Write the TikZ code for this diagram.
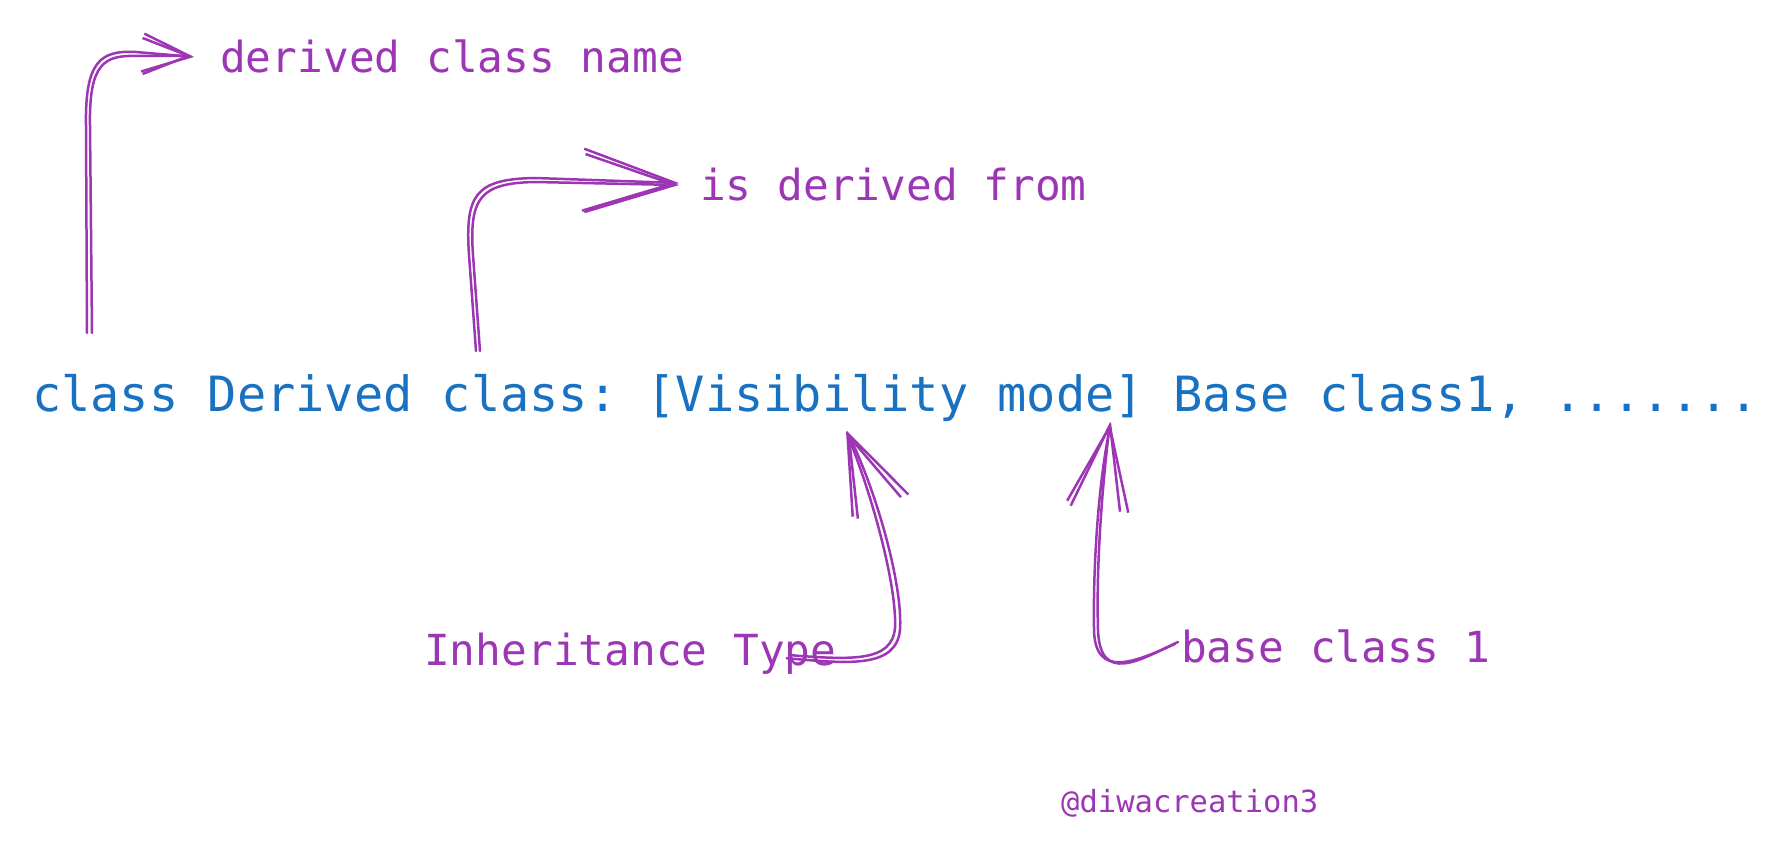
\documentclass[tikz,border=0pt]{standalone}
\usepackage{fontspec}
\setmonofont{DejaVu Sans Mono}
\usetikzlibrary{arrows.meta}
\definecolor{codeblue}{HTML}{1971C2}
\definecolor{grape}{HTML}{9C36B5}
\tikzset{
  code/.style={anchor=base west, inner sep=0pt, text=codeblue,
               font=\ttfamily\fontsize{48.6}{58}\selectfont},
  note/.style={anchor=base west, inner sep=0pt, text=grape,
               font=\ttfamily\fontsize{42.8}{52}\selectfont},
  sketch/.style={grape, line width=2.5pt, line cap=round, line join=round},
  barb/.style 2 args={-{Straight Barb[length=#1,width=#2]}},
}
\begin{document}
\begin{tikzpicture}[x=1pt,y=-1pt]
  \useasboundingbox (0,0) rectangle (1789,850);
  % declaration line
  \node[code] (decl) at (32,411) {class Derived class: [Visibility mode] Base class1, .......};
  % labels
  \node[note] (dname)  at (220,73)   {derived class name};
  \node[note] (isfrom) at (700,201)  {is derived from};
  \node[note] (inh)    at (424,665)  {Inheritance Type};
  \node[note] (bcls)   at (1181,662) {base class 1};
  \node[note,font=\ttfamily\fontsize{30.5}{36}\selectfont] (credit) at (1061,812) {@diwacreation3};
  % points on the declaration line
  \coordinate (clsA) at (87,333);
  \coordinate (clsB) at (476,351);
  \coordinate (vis)  at (847,431);
  \coordinate (mode) at (1110,422);

  % derived class name
  \draw[sketch,barb={48pt}{38pt}] (clsA) -- (86,125) .. controls (85,62) and (100,50) .. (136,52) -- ([xshift=-26pt]dname.west);
  \draw[sketch,barb={46pt}{36pt}] ([xshift=5pt]clsA) -- (90,125) .. controls (89,64) and (104,55) .. (136,56) -- ([xshift=-28pt,yshift=1pt]dname.west);
  % is derived from
  \draw[sketch,barb={92pt}{62pt}] (clsB) -- (469,255) .. controls (465,195) and (475,179) .. (535,178) -- ([xshift=-21pt,yshift=2pt]isfrom.west);
  \draw[sketch,barb={90pt}{58pt}] ([xshift=4pt]clsB) -- (473,255) .. controls (469,198) and (480,183) .. (535,182) -- ([xshift=-21pt]isfrom.west);
  % inheritance type
  \draw[sketch,barb={80pt}{56pt}] ([xshift=-50pt,yshift=-5pt]inh.east) .. controls (850,664) and (896,668) .. (900,630) .. controls (903,590) and (880,500) .. (vis);
  \draw[sketch,barb={78pt}{52pt}] ([xshift=-46pt,yshift=-2pt]inh.east) .. controls (852,660) and (892,662) .. (895,628) .. controls (897,588) and (874,500) .. ([xshift=-1pt]vis);
  % base class 1
  \draw[sketch,barb={84pt}{58pt}] ([xshift=-3pt,yshift=4pt]bcls.west) .. controls (1140,660) and (1100,685) .. (1098,630) .. controls (1096,560) and (1103,480) .. (mode);
  \draw[sketch,barb={82pt}{54pt}] ([xshift=-6pt,yshift=2pt]bcls.west) .. controls (1135,662) and (1094,680) .. (1094,628) .. controls (1093,560) and (1099,480) .. ([xshift=1pt]mode);
\end{tikzpicture}
\end{document}
